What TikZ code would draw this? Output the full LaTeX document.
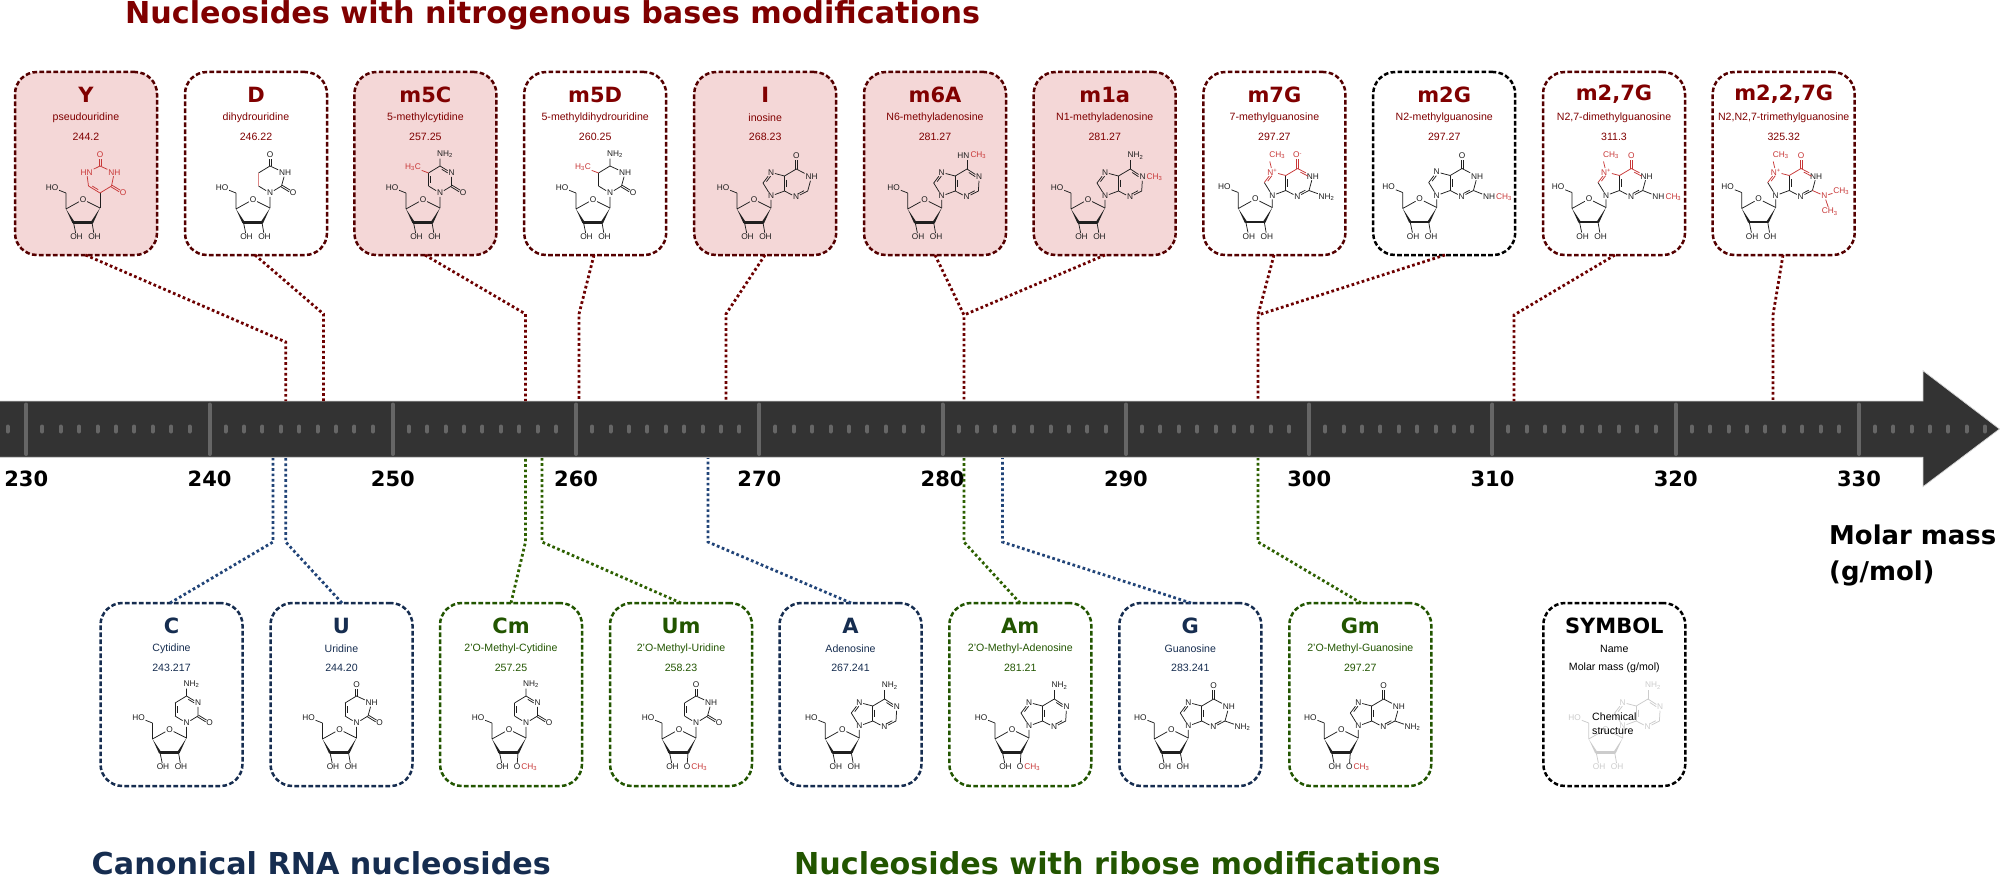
\documentclass[tikz,border=0pt]{standalone}
\usepackage{fontspec}
\usetikzlibrary{calc}
\setmainfont{Liberation Sans}
\newfontfamily\dejab{DejaVu Sans}
\definecolor{maroonT}{HTML}{800000}
\definecolor{maroonB}{HTML}{550000}
\definecolor{blueT}{HTML}{162D50}
\definecolor{blueD}{HTML}{214478}
\definecolor{greenT}{HTML}{225500}
\definecolor{greenD}{HTML}{2D6000}
\definecolor{pinkF}{HTML}{F4D7D7}
\definecolor{hl}{HTML}{C83737}
\definecolor{barC}{HTML}{333333}
\definecolor{tickC}{HTML}{666666}
\colorlet{bc}{black!88}
\tikzset{
  bond/.style={line width=.75pt,draw=bc},
  bondh/.style={line width=.75pt,draw=hl},
  atom/.style={font=\fontsize{8.3}{9}\selectfont,inner sep=.7pt,text=bc},
  atomh/.style={atom,text=hl},
  card/.style={rectangle,rounded corners=22pt,line width=2.5pt,dash pattern=on 4.6pt off 2.4pt,minimum width=142pt,minimum height=183pt,anchor=north west,inner sep=0,outer sep=0},
  cardR/.style={card,draw=maroonB},
  cardP/.style={card,draw=maroonB,fill=pinkF},
  cardK/.style={card,draw=black},
  cardB/.style={card,draw=blueT},
  cardG/.style={card,draw=greenT},
  titleT/.style={font=\dejab\bfseries\fontsize{21}{24}\selectfont,inner sep=0},
  nameT/.style={font=\fontsize{10.6}{12}\selectfont,inner sep=0},
  headT/.style={font=\dejab\bfseries\fontsize{30.2}{34}\selectfont,inner sep=0,anchor=base west},
  numT/.style={font=\dejab\bfseries\fontsize{21}{24}\selectfont,inner sep=0,text=black},
  linkR/.style={line width=2.8pt,draw=maroonT!85!black,dash pattern=on 2.7pt off 2.6pt},
  linkB/.style={line width=2.8pt,draw=blueD,dash pattern=on 2.7pt off 2.6pt},
  linkG/.style={line width=2.8pt,draw=greenD,dash pattern=on 2.7pt off 2.6pt},
  majorT/.style={line width=4pt,draw=tickC,line cap=round},
  minorT/.style={line width=4pt,draw=tickC,line cap=round},
}
\newcommand\dbl[4][bond]{\draw[#1] (#2)--(#3);
  \draw[#1] ($($(#2)!.24!(#3)$)!1.9pt!#4:(#3)$) -- ($($(#2)!.76!(#3)$)!1.9pt!#4:(#3)$);}
\newcommand\dblx[3][bond]{%
  \draw[#1,shorten >=4pt] ($(#2)!.95pt!90:(#3)$) -- ($(#3)!.95pt!-90:(#2)$);
  \draw[#1,shorten >=4pt] ($(#2)!.95pt!-90:(#3)$) -- ($(#3)!.95pt!90:(#2)$);}
\newcommand\rib[1]{%
  \coordinate (r1) at (0,0);\coordinate (r2) at (-8,14.5);\coordinate (r3) at (-26.5,14.5);
  \coordinate (r4) at (-34,1);\coordinate (r5) at (-34,-15);
  \node[atom] (ro) at (-17,-8.5) {O};
  \node[atom] (rho) at (-48,-20.5) {HO};
  \node[atom] (roh3) at (-23.5,29) {OH};
  \draw[bond] (r5)--(rho) (r5)--(r4) (r4)--(ro) (ro)--(r1) (r3)--(roh3);
  \fill[bc] (r4)--(-25.4,13.9)--(-27.6,15.1)--cycle;
  \fill[bc] (r1)--(-6.9,15.1)--(-9.1,13.9)--cycle;
  \draw[line width=2.4pt,draw=bc,line cap=round] (r3)--(r2);
  \ifnum#1=0
    \node[atom] (roh2) at (-5.5,29) {OH};
    \draw[bond] (r2)--(roh2);
  \else
    \node[atom] (roh2) at (-9,29) {O};
    \node[atomh,anchor=west,inner sep=0] (rme) at (roh2.east) {CH\textsubscript{3}};
    \draw[bond] (r2)--(roh2);
  \fi}
\newcommand\pyrc{%
  \coordinate (plr) at (11.5,-22);\coordinate (pur) at (11.5,-35);
  \coordinate (pt) at (0,-42);\coordinate (pul) at (-11.5,-35);\coordinate (pll) at (-11.5,-22);}
\newcommand\urid[1]{\pyrc
  \node[atom] (pn) at (0,-15) {N};
  \node[atom,anchor=west] (pnh) at (8.2,-35) {NH};
  \node[atom] (po2) at (23,-15) {O};
  \node[atom] (po4) at (0,-53.5) {O};
  \draw[bond] (r1)--(pn) (pn)--(plr) (plr)--(pnh) (pnh)--(pt) (pt)--(pul) (pll)--(pn);
  \dblx{plr}{po2}\dblx{pt}{po4}
  \ifnum#1=0 \dbl{pul}{pll}{90}\else\draw[bondh,draw=hl!60] (pul)--(pll);\fi}
\newcommand\cytid{\pyrc
  \node[atom] (pn) at (0,-15) {N};
  \node[atom] (pn3) at (11.5,-35) {N};
  \node[atom] (po2) at (23,-15) {O};
  \node[atom,anchor=west] (pnh2) at (-3.7,-54) {NH\textsubscript{2}};
  \draw[bond] (r1)--(pn) (pn)--(plr) (plr)--(pn3) (pt)--(pul) (pll)--(pn) (pt)--(0,-49.5);
  \dblx{plr}{po2}\dbl{pn3}{pt}{90}\dbl{pul}{pll}{90}}
\newcommand\methylC{%
  \node[atomh] (pme) at (-27,-41) {H\textsubscript{3}C};
  \draw[bondh] (pul)--(pme);}
\newcommand\purine[5]{%
  \node[atom] (n9) at (0,-12) {N};
  \coordinate (c8) at (-8,-25);
  \node[#2] (n7) at (0,-35.5) {#3};
  \coordinate (c5) at (13.5,-32);\coordinate (c4) at (13.5,-17);
  \node[atom] (n3) at (25,-11) {N};
  \coordinate (c2) at (36.7,-17);\coordinate (c6) at (25.3,-39);
  \node[atom,anchor=west] (n1) at (33.6,-31) {#4};
  \draw[bond] (r1)--(n9) (n9)--(c8) (c4)--(n9) (c4)--(n3) (c2)--(n1);
  \draw[#1] (n7)--(c5) (c5)--(c6);
  \dbl[#1]{c8}{n7}{-90}\dbl{c5}{c4}{90}\dbl{n3}{c2}{90}
  \ifnum#5=1 \dbl[#1]{c6}{n1}{-90}\else\draw[bond] (c6)--(n1);\fi}
\newcommand\topO{\node[atom] (x6) at (25.3,-52) {O};\dblx{c6}{x6}}
\newcommand\topOh{\node[atomh] (x6) at (25.3,-52) {O};\dblx[bondh]{c6}{x6}}
\newcommand\topNHH{\node[atom,anchor=west] (x6) at (21.6,-52.5) {NH\textsubscript{2}};\draw[bond] (c6)--(25.3,-48);}
\newcommand\nhtwo{\node[atom,anchor=west] (x2) at (45.5,-10.7) {NH\textsubscript{2}};\draw[bond] (c2)--(x2);}
\newcommand\nhme{\node[atom,anchor=west] (x2) at (45.5,-10.7) {NH};
  \node[atomh,anchor=west,inner sep=0] (x2m) at (x2.east) {CH\textsubscript{3}};\draw[bond] (c2)--(x2);}
\newcommand\mSeven{\node[atomh] (m7) at (5,-52.5) {CH\textsubscript{3}};\draw[bondh] (n7)--(-2.5,-46);}
\newcommand\mcardmol[3]{\begin{scope}[shift={(#1,#2)}]#3\end{scope}}
\newcommand\mcard[9]{%
  \node[#4] (b#1) at (#2,#3) {};
  \node[titleT,text=#5] (s#1) at ($(b#1.north)+(0,22.5)$) {#6};
  \node[nameT,text=#5] (n#1) at ($(b#1.north)+(0,46)$) {#7};
  \node[nameT,text=#5] (w#1) at ($(b#1.north)+(0,65.2)$) {#8};
  \mcardmol#9}
\newcommand\conn[6]{%
  \coordinate (p#1) at (#4,#5);\coordinate (q#1) at (#4,#6);
  \draw[#2] ($(b#1.west |- b#1.south)+(#3,0)$) -- (p#1) -- (q#1);}
\newcommand\connb[4]{%
  \coordinate (p#1) at (#4,542);\coordinate (q#1) at (#4,458);
  \draw[#2] ($(b#1.west |- b#1.north)+(#3,0)$) -- (p#1) -- (q#1);}
\begin{document}
\begin{tikzpicture}[x=1pt,y=-1pt]
\fill[white] (0,0) rectangle (2000,875);
\useasboundingbox (0,0) rectangle (2000,875);
\path[fill=barC,draw=black!15,line width=.7pt] (-2,401)--(1923,401)--(1923,370.7)--(1999.5,429)--(1923,486.7)--(1923,457.3)--(-2,457.3)--cycle;
\foreach \k in {0,...,10}{
  \draw[majorT] ({26.3+183.27*\k},404.5)--({26.3+183.27*\k},454);
  \pgfmathtruncatemacro\lab{230+10*\k}
  \node[numT] (num\k) at ({26.3+183.27*\k},479) {\lab};
}
\foreach \k in {0,...,9}{\foreach \m in {0,...,8}{
  \draw[minorT] ({26.3+183.27*\k+16+18.4*\m},426.5)--({26.3+183.27*\k+16+18.4*\m},431.5);}}
\draw[minorT] (7.7,426.5)--(7.7,431.5);
\foreach \m in {0,...,6}{\draw[minorT] ({1875+18.3*\m},426.5)--({1875+18.3*\m},431.5);}
\node[headT,text=maroonT] (h1) at (125,23.5) {Nucleosides with nitrogenous bases modifications};
\node[headT,text=blueT] (h2) at (91.5,874.5) {Canonical RNA nucleosides};
\node[headT,text=greenT] (h3) at (794,874.5) {Nucleosides with ribose modifications};
\node[font=\dejab\bfseries\fontsize{25.9}{33}\selectfont,inner sep=0,anchor=north west,align=left] (mm) at (1829,525) {Molar mass\\[2.5pt](g/mol)};
\mcard{Y}{15}{72}{cardP}{maroonT}{Y}{pseudouridine}{244.2}{{100}{208}{\rib{0}\pyrc
  \coordinate (pb) at (0,-15);
  \node[atomh] (po2) at (23,-15) {O};\node[atomh] (po4) at (0,-53.5) {O};
  \node[atomh] (pnh) at (14.3,-35.5) {NH};\node[atomh] (phn) at (-13.3,-35.5) {HN};
  \draw[bond] (r1)--(pb);
  \draw[bondh] (pb)--(plr) (plr)--(pnh) (pnh)--(pt) (pt)--(phn) (phn)--(pll);
  \dblx[bondh]{plr}{po2}\dblx[bondh]{pt}{po4}\dbl[bondh]{pll}{pb}{90}}}
\mcard{D}{185}{72}{cardR}{maroonT}{D}{dihydrouridine}{246.22}{{270}{208}{\rib{0}\urid{1}}}
\mcard{C5}{354.4}{72}{cardP}{maroonT}{m5C}{5-methylcytidine}{257.25}{{440}{208}{\rib{0}\cytid\methylC}}
\mcard{D5}{524.2}{72}{cardR}{maroonT}{m5D}{5-methyldihydrouridine}{260.25}{{610}{208}{\rib{0}\pyrc
  \node[atom] (pn) at (0,-15) {N};\node[atom,anchor=west] (pnh) at (8.2,-35) {NH};\node[atom] (po2) at (23,-15) {O};
  \node[atom,anchor=west] (pnh2) at (-3.7,-54) {NH\textsubscript{2}};
  \draw[bond] (r1)--(pn) (pn)--(plr) (plr)--(pnh) (pnh)--(pt) (pt)--(pul) (pul)--(pll) (pll)--(pn) (pt)--(0,-49.5);
  \dblx{plr}{po2}\methylC}}
\mcard{I}{694.2}{72}{cardP}{maroonT}{I}{inosine}{268.23}{{771}{208}{\rib{0}\purine{bond}{atom}{N}{NH}{0}\topO}}
\mcard{A6}{864}{72}{cardP}{maroonT}{m6A}{N6-methyladenosine}{281.27}{{941.7}{208}{\rib{0}\purine{bond}{atom}{N}{N}{1}
  \node[atom] (x6) at (21.7,-52.7) {HN};\node[atomh,anchor=west,inner sep=0] (x6m) at (x6.east) {CH\textsubscript{3}};\draw[bond] (c6)--(25.3,-48);}}
\mcard{A1}{1033.7}{72}{cardP}{maroonT}{m1a}{N1-methyladenosine}{281.27}{{1105}{208}{\rib{0}\purine{bond}{atom}{N}{N}{1}\topNHH
  \node[atomh,anchor=west,inner sep=0] (n1m) at (n1.east) {CH\textsubscript{3}};}}
\mcard{G7}{1203.4}{72}{cardR}{maroonT}{m7G}{7-methylguanosine}{297.27}{{1272.3}{207.5}{\rib{0}\purine{bondh}{atomh}{N\textsuperscript{+}}{NH}{1}\mSeven
  \node[atomh] (x6) at (25.3,-52.5) {O\textsuperscript{-}};\dblx[bondh]{c6}{x6}\nhtwo}}
\mcard{G2}{1373.2}{72}{cardK}{maroonT}{m2G}{N2-methylguanosine}{297.27}{{1436.7}{207.5}{\rib{0}\purine{bond}{atom}{N}{NH}{0}\topO\nhme}}
\mcard{G27}{1543}{72}{cardR}{maroonT}{m2,7G}{N2,7-dimethylguanosine}{311.3}{{1606}{207.5}{\rib{0}\purine{bondh}{atomh}{N\textsuperscript{+}}{NH}{1}\mSeven\topOh\nhme}}
\mcard{G227}{1712.7}{72}{cardR}{maroonT}{m2,2,7G}{N2,N2,7-trimethylguanosine}{325.32}{{1775.7}{207.5}{\rib{0}\purine{bondh}{atomh}{N\textsuperscript{+}}{NH}{1}\mSeven\topOh
  \node[atomh] (x2) at (48.7,-11.7) {N};\node[atomh] (x2a) at (65.5,-16.7) {CH\textsubscript{3}};\node[atomh] (x2b) at (54,4) {CH\textsubscript{3}};
  \draw[bondh] (c2)--(x2) (x2)--(x2a) (x2)--(x2b);}}
\mcard{C}{100.5}{603}{cardB}{blueT}{C}{Cytidine}{243.217}{{186.5}{738}{\rib{0}\cytid}}
\mcard{U}{270.5}{603}{cardB}{blueT}{U}{Uridine}{244.20}{{356.5}{738}{\rib{0}\urid{0}}}
\mcard{Cm}{440}{603}{cardG}{greenT}{Cm}{2'O-Methyl-Cytidine}{257.25}{{526}{738}{\rib{1}\cytid}}
\mcard{Um}{610}{603}{cardG}{greenT}{Um}{2'O-Methyl-Uridine}{258.23}{{696}{738}{\rib{1}\urid{0}}}
\mcard{A}{779.5}{603}{cardB}{blueT}{A}{Adenosine}{267.241}{{859.3}{738}{\rib{0}\purine{bond}{atom}{N}{N}{1}\topNHH}}
\mcard{Am}{949.3}{603}{cardG}{greenT}{Am}{2'O-Methyl-Adenosine}{281.21}{{1029}{738}{\rib{1}\purine{bond}{atom}{N}{N}{1}\topNHH}}
\mcard{G}{1119.3}{603}{cardB}{blueT}{G}{Guanosine}{283.241}{{1188.3}{738}{\rib{0}\purine{bond}{atom}{N}{NH}{0}\topO\nhtwo}}
\mcard{Gm}{1289.3}{603}{cardG}{greenT}{Gm}{2'O-Methyl-Guanosine}{297.27}{{1358.3}{738}{\rib{1}\purine{bond}{atom}{N}{NH}{0}\topO\nhtwo}}
\mcard{S}{1543.3}{603}{cardK}{black}{SYMBOL}{Name}{Molar mass (g/mol)}{{1622.7}{738}{\colorlet{bc}{black!20}\rib{0}\purine{bond}{atom}{N}{N}{1}\topNHH}}
\node[nameT,text=black,anchor=north west,align=left] (sc) at (1592,713) {Chemical\\[1.6pt]structure};
\conn{Y}{linkR}{70.5}{285.7}{342}{401}
\conn{D}{linkR}{70}{323.5}{314}{401}
\conn{C5}{linkR}{70.6}{525.5}{314}{401}
\conn{D5}{linkR}{69.8}{579}{314}{401}
\conn{I}{linkR}{70.8}{726}{314}{401}
\conn{A6}{linkR}{71}{964}{315}{401}
\draw[linkR] ($(bA1.west |- bA1.south)+(71.3,0)$) -- (pA6);
\conn{G7}{linkR}{70.6}{1258}{315}{401}
\draw[linkR] ($(bG2.west |- bG2.south)+(71.8,0)$) -- (pG7);
\conn{G27}{linkR}{72}{1514}{315}{401}
\conn{G227}{linkR}{70.3}{1773}{315}{401}
\connb{C}{linkB}{69.5}{273}
\connb{U}{linkB}{71.5}{285.7}
\connb{Cm}{linkG}{71}{525.5}
\connb{Um}{linkG}{71}{542}
\connb{A}{linkB}{71.5}{708}
\connb{Am}{linkG}{70.7}{964}
\connb{G}{linkB}{71.7}{1002.5}
\connb{Gm}{linkG}{71.7}{1258}
\end{tikzpicture}
\end{document}
